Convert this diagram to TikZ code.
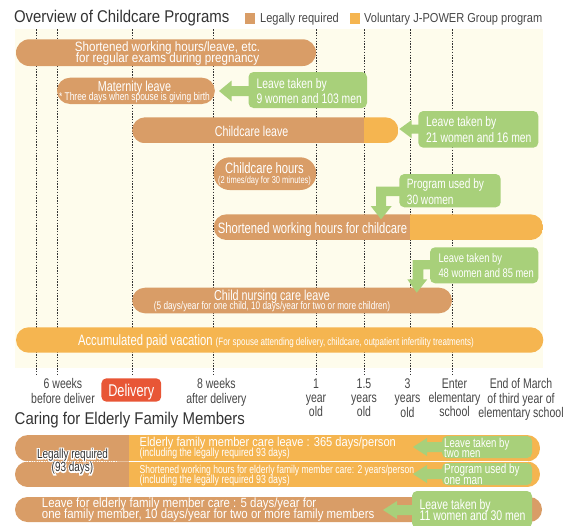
\documentclass[tikz,border=0pt]{standalone}
\usepackage{fontspec}
\setmainfont{Liberation Sans}[FakeStretch=0.75]
\newfontfamily\headfont{Liberation Sans}[FakeStretch=0.88]
\newfontfamily\legendfont{Liberation Sans}[FakeStretch=0.85]
\newfontfamily\wfont{Liberation Sans}[FakeStretch=0.86]
\usetikzlibrary{calc}
\definecolor{legal}{RGB}{217,157,103}
\definecolor{volun}{RGB}{245,181,80}
\definecolor{note}{RGB}{168,208,122}
\definecolor{panel}{RGB}{254,252,236}
\definecolor{deliv}{RGB}{232,86,54}
\definecolor{ink}{RGB}{70,70,70}
\definecolor{headink}{RGB}{51,51,51}
\newcommand\fs[2]{\fontsize{#1}{#2}\selectfont}
% dark text with a thin white outline behind it
\newcommand\outlined[1]{\rlap{\special{pdf:literal direct 1 Tr 2.2 w 1 1 1 RG}#1\special{pdf:literal direct 0 Tr}}#1}
\lineskiplimit=-100pt
\tikzset{
  txt/.style={inner sep=0pt, anchor=base, text=white},
  txtl/.style={txt, anchor=base west},
  block/.style={inner sep=0pt, anchor=north, align=center, text=white},
  blockl/.style={inner sep=0pt, anchor=north west, align=left, text=white},
  guide/.style={black!80, line width=0.6pt, dash pattern=on 1.4pt off 1.4pt},
  axislbl/.style={block, text=ink, font=\fs{14}{14.3}},
  notebox/.style={fill=note, rounded corners=5pt},
}
\begin{document}
\begin{tikzpicture}[x=1pt, y=-1pt]
\useasboundingbox (0,0) rectangle (565,525);

% headings and legend
\node[txtl, text=headink] (title) at (13.8,22) {\headfont\fs{17}{17}Overview of Childcare Programs};
\fill[legal] (244.5,13.3) rectangle (255.3,24.3);
\node[txtl, text=ink] (lg1) at (260,22.5) {\legendfont\fs{13}{13}Legally required};
\fill[volun] (349.5,13.3) rectangle (360.4,24.3);
\node[txtl, text=ink] (lg2) at (364,22.5) {\legendfont\fs{13}{13}Voluntary J-POWER Group program};

% timeline panel and guide lines
\fill[panel] (15.2,29.3) rectangle (543,368.3);
\foreach \x in {36.2,57.2,132.2,213.7,316.2,364,410.4,452}
  \draw[guide] (\x,29.3) -- (\x,375);

% childcare bars
\fill[legal, rounded corners=13.3pt] (16,39.3) rectangle (316,66);
\fill[legal, rounded corners=13pt] (57,77.7) rectangle (214.8,104);
\begin{scope}
  \clip[rounded corners=13pt] (132.2,117.3) rectangle (398.4,143.3);
  \fill[legal] (132.2,117.3) rectangle (364,143.3);
  \fill[volun] (364,117.3) rectangle (398.4,143.3);
\end{scope}
\fill[legal, rounded corners=16pt] (213.7,157.3) rectangle (316.2,190);
\begin{scope}
  \clip[rounded corners=12.8pt] (213.7,214.3) rectangle (543.3,240);
  \fill[legal] (213.7,214.3) rectangle (410.4,240);
  \fill[volun] (410.4,214.3) rectangle (543.3,240);
\end{scope}
\fill[legal, rounded corners=12.8pt] (132.2,287.7) rectangle (452,313.3);
\fill[volun, rounded corners=12.7pt] (16,327.3) rectangle (543.3,352.7);

% callouts with their pointers
\fill[note] (250,86) -- (231.7,86) -- (231.7,80.5) -- (219,91) -- (231.7,101.5) -- (231.7,96) -- (250,96) -- cycle;
\fill[notebox] (248.5,72) rectangle (367,108);
\fill[note] (421,124.5) -- (411.7,124.5) -- (411.7,120) -- (399.3,129) -- (411.7,138.3) -- (411.7,133.5) -- (421,133.5) -- cycle;
\fill[notebox] (418.3,111) rectangle (538.3,147.7);
\fill[note] (402,186.7) -- (376,186.7) -- (376,206) -- (370.7,206) -- (381,219.3) -- (391.7,206) -- (386,206) -- (386,196) -- (402,196) -- cycle;
\fill[notebox] (399.3,174) rectangle (500.7,207.3);
\fill[note] (433,260) -- (412.7,260) -- (412.7,279.3) -- (407.3,279.3) -- (416.7,292.7) -- (427.3,279.3) -- (423.3,279.3) -- (423.3,269.3) -- (433,269.3) -- cycle;
\fill[notebox] (430,247.3) rectangle (538.3,283.3);

% bar labels
\node[block, font=\wfont\fs{13.5}{11.4}] (b1) at (167.5,41.5) {Shortened working hours/leave, etc.\\for regular exams during pregnancy};
\node[block, font=\fs{11.2}{9}] (b2) at (134.5,81) {{\fs{14.4}{9}Maternity leave}\\* Three days when spouse is giving birth};
\node[txt] (b3) at (251.7,136) {\fs{14.2}{14.2}Childcare leave};
\node[block, font=\fs{10}{10}] (b4) at (264.5,162.3) {{\fs{15}{10}Childcare hours}\\(2 times/day for 30 minutes)};
\node[txt] (b5) at (312.5,233.3) {\fs{15}{15}Shortened working hours for childcare};
\node[block, font=\fs{11}{9.3}] (b6) at (272,289.5) {{\fs{14.4}{9.3}Child nursing care leave}\\(5 days/year for one child, 10 days/year for two or more children)};
\node[txtl] (b7) at (77.9,345.5) {\fs{15}{15}Accumulated paid vacation {\fs{10.7}{10.7}(For spouse attending delivery, childcare, outpatient infertility treatments)}};

% callout texts
\node[blockl, font=\fs{13.8}{15}] (c1) at (256.4,77.9) {Leave taken by\\9 women and 103 men};
\node[blockl, font=\fs{13.8}{15.5}] (c2) at (426,116.4) {Leave taken by\\21 women and 16 men};
\node[blockl, font=\fs{13.5}{16}] (c3) at (406.7,178.6) {Program used by\\30 women};
\node[blockl, font=\fs{12.5}{15}] (c4) at (438.3,253.4) {Leave taken by\\48 women and 85 men};

% time axis
\node[axislbl] (t1) at (63,378.5) {6 weeks\\before deliver};
\fill[deliv, rounded corners=5pt] (101.4,378.3) rectangle (161.2,401.7);
\node[txt] (t2) at (131.3,396.5) {\fs{17}{17}Delivery};
\node[axislbl] (t3) at (216.4,378.5) {8 weeks\\after delivery};
\node[axislbl] (t4) at (316,378.5) {1\\year\\old};
\node[axislbl] (t5) at (364,378.5) {1.5\\years\\old};
\node[axislbl] (t6) at (407.5,378.5) {3\\years\\old};
\node[axislbl] (t7) at (454.5,378.5) {Enter\\elementary\\school};
\node[axislbl] (t8) at (521,378.5) {End of March\\of third year of\\elementary school};

% elderly care
\node[txtl, text=headink] (title2) at (14.5,424.3) {\headfont\fs{17}{17}Caring for Elderly Family Members};
\begin{scope}
  \clip[rounded corners=13pt] (15,435) rectangle (540,461.5);
  \fill[legal] (15,435) rectangle (129,461.5);
  \fill[volun] (129,435) rectangle (540,461.5);
\end{scope}
\begin{scope}
  \clip[rounded corners=12.7pt] (15,461.5) rectangle (540,487);
  \fill[legal] (15,461.5) rectangle (129,487);
  \fill[volun] (129,461.5) rectangle (540,487);
\end{scope}
\draw[white, line width=0.8pt] (129,461.5) -- (528,461.5);
\draw[white, line width=1.2pt, dash pattern=on 1.2pt off 1.2pt] (27,461.5) -- (118,461.5);
\fill[legal, rounded corners=12.5pt] (15,497) rectangle (542,522);

\fill[note] (445,442) -- (427,442) -- (427,438) -- (413,447) -- (427,456) -- (427,452) -- (445,452) -- cycle;
\fill[notebox] (442,436) rectangle (532,458);
\fill[note] (445,469) -- (427,469) -- (427,465) -- (413,474) -- (427,483) -- (427,479) -- (445,479) -- cycle;
\fill[notebox] (442,463) rectangle (532,485);
\fill[note] (415,505) -- (397,505) -- (397,501) -- (383,510) -- (397,519) -- (397,515) -- (415,515) -- cycle;
\fill[notebox] (412,491) rectangle (532,528);

\node[block, text=headink, font=\fs{13.3}{13.4}] (lr) at (72.5,448.6) {\outlined{Legally required}\\\outlined{(93 days)}};

\node[blockl, font=\fs{11.7}{10}] (e1) at (139.4,437.3) {{\wfont\fs{12.9}{10}Elderly family member care leave : 365 days/person}\\(including the legally required 93 days)};
\node[blockl, font=\fs{11.7}{10}] (e2) at (139.4,465) {{\fs{11.4}{10}Shortened working hours for elderly family member care: 2 years/person}\\(including the legally required 93 days)};
\node[blockl, font=\wfont\fs{13.3}{11}] (e3) at (41.7,497.6) {Leave for elderly family member care : 5 days/year for\\one family member, 10 days/year for two or more family members};

\node[blockl, font=\fs{12.8}{10}] (g1) at (444,438) {Leave taken by\\two men};
\node[blockl, font=\fs{13.2}{10.7}] (g2) at (444,463.7) {Program used by\\one man};
\node[blockl, font=\fs{14}{11.4}] (g3) at (419.3,499.1) {Leave taken by\\11 women and 30 men};
\end{tikzpicture}
\end{document}
